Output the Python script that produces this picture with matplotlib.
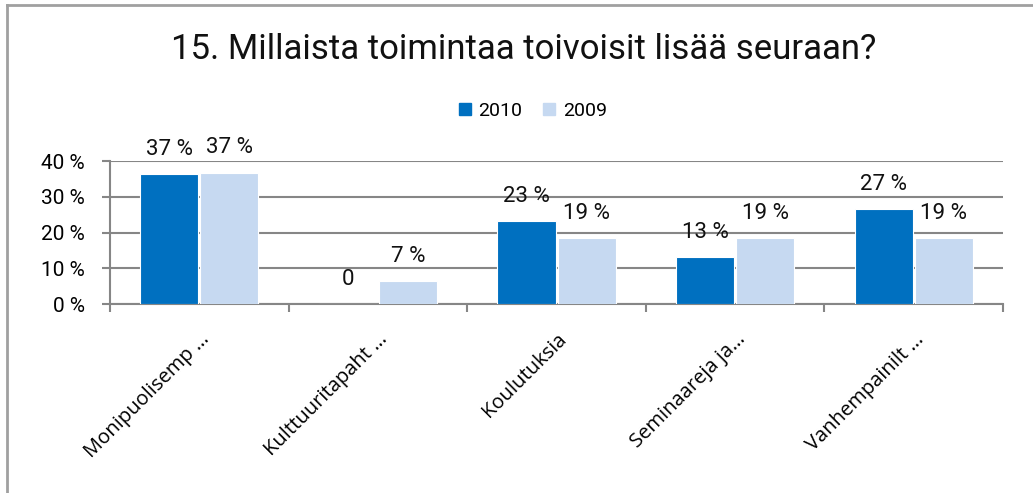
import numpy as np
import matplotlib.pyplot as plt
from matplotlib.lines import Line2D

# data
categories = ['Monipuolisemp …', 'Kulttuuritapaht …', 'Koulutuksia', 'Seminaareja ja…', 'Vanhempainilt …']
years = ['2010', '2009']
vals_2010 = [36.4, 0, 23.2, 13.1, 26.6]
vals_2009 = [36.8, 6.4, 18.4, 18.4, 18.4]
labels_2010 = ['37 %', '0', '23 %', '13 %', '27 %']
labels_2009 = ['37 %', '7 %', '19 %', '19 %', '19 %']
yticks = [0, 10, 20, 30, 40]

num_font = ['Roboto', 'DejaVu Sans']
plt.rcParams['font.family'] = ['Open Sans', 'DejaVu Sans']

c2010 = '#0070C0'
c2009 = '#C6D9F1'
grid_c = '#868686'

fig = plt.figure(figsize=(10.33, 4.93), dpi=100)
ax = fig.add_axes([0.1065, 0.383, 0.8645, 0.29])

x = np.arange(len(categories))
w = 0.325
ax.bar(x - 0.168, vals_2010, w, color=c2010, edgecolor='white', linewidth=0.8, zorder=3)
ax.bar(x + 0.168, vals_2009, w, color=c2009, edgecolor='white', linewidth=0.8, zorder=3)

for xi, v, t in zip(x, vals_2010, labels_2010):
    ax.text(xi - 0.168, v + 6.9, t, ha='center', va='center', fontsize=16, color='#111111',
            family=num_font, zorder=4)
for xi, v, t in zip(x, vals_2009, labels_2009):
    ax.text(xi + 0.168, v + 6.9, t, ha='center', va='center', fontsize=16, color='#111111',
            family=num_font, zorder=4)

ax.set_xlim(-0.5, len(categories) - 0.5)
ax.set_ylim(0, 40)
ax.set_yticks(yticks)
ax.set_yticklabels([f'{t} %' for t in yticks], family=num_font, fontsize=15)
ax.yaxis.grid(True, color=grid_c, linewidth=1.5, zorder=0)
ax.tick_params(axis='y', length=6, width=1.5, color=grid_c, pad=12)

ax.set_xticks(x)
ax.set_xticklabels(categories, rotation=45, ha='right', rotation_mode='anchor', fontsize=14.5)
ax.set_xticks(np.arange(len(categories) + 1) - 0.5, minor=True)
ax.tick_params(axis='x', which='major', length=0, pad=18)
ax.tick_params(axis='x', which='minor', length=6, width=1.5, color=grid_c)

for s in ['top', 'right']:
    ax.spines[s].set_visible(False)
for s in ['left', 'bottom']:
    ax.spines[s].set_color(grid_c)
    ax.spines[s].set_linewidth(1.5)

fig.text(0.507, 0.9, '15. Millaista toimintaa toivoisit lisää seuraan?', ha='center', va='center',
         fontsize=25, family=num_font, color='#111111')

handles = [Line2D([], [], marker='s', linestyle='', markersize=8, color=c) for c in [c2010, c2009]]
fig.legend(handles, years, loc='center', bbox_to_anchor=(0.513, 0.775), ncol=2, frameon=False,
           prop={'family': num_font, 'size': 14}, handletextpad=0.1, columnspacing=0.8,
           handlelength=1.2)

# chart border (left and top visible)
fig.add_artist(Line2D([0.007, 0.007], [0, 0.99], transform=fig.transFigure, color='#a0a0a0', linewidth=2))
fig.add_artist(Line2D([0.007, 1], [0.99, 0.99], transform=fig.transFigure, color='#a0a0a0', linewidth=2))

fig.savefig('out.png', dpi=100)
